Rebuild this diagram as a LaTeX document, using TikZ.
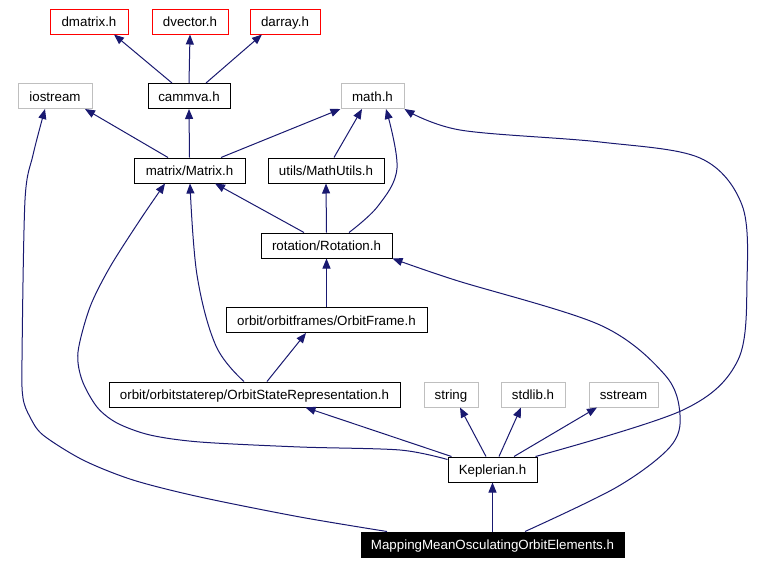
\documentclass[tikz,border=0pt]{standalone}
\usepackage{fontspec}
\setmainfont{Liberation Sans}
\usetikzlibrary{arrows.meta,calc}
\definecolor{edgecol}{HTML}{191970}
\definecolor{sysgray}{HTML}{BFBFBF}
\begin{document}
\begin{tikzpicture}[x=0.75pt,y=-0.75pt,
  bx/.style={draw=black,line width=0.75pt,rectangle,minimum height=18.75pt,inner sep=0pt,
    text height=9pt,text depth=1.5pt,
    font=\fontsize{10}{12}\selectfont},
  missing/.style={bx,draw=red},
  sys/.style={bx,draw=sysgray},
  cur/.style={bx,fill=black,text=white},
  mw/.style={minimum width=#1*0.75pt},
  dep/.style={draw=edgecol,line width=0.75pt,-{Triangle[length=7.5pt,width=6pt]}}]
\useasboundingbox (0,0) rectangle (767,564);
\node[missing,mw=78] (dmatrix) at (89,21.5) {dmatrix.h};
\node[missing,mw=76] (dvector) at (190,21.5) {dvector.h};
\node[missing,mw=70] (darray) at (285,21.5) {darray.h};
\node[sys,mw=74] (iostream) at (55,96) {iostream};
\node[bx,mw=82] (cammva) at (189,96) {cammva.h};
\node[sys,mw=63] (math) at (372.5,96) {math.h};
\node[bx,mw=111] (matrix) at (189.5,170.5) {matrix/Matrix.h};
\node[bx,mw=116] (mathutils) at (326,170.5) {utils/MathUtils.h};
\node[bx,mw=131] (rotation) at (326.5,245.5) {rotation/Rotation.h};
\node[bx,mw=201] (frame) at (326.5,320) {orbit/orbitframes/OrbitFrame.h};
\node[bx,mw=291] (osr) at (254.5,394.5) {orbit/orbitstaterep/OrbitStateRepresentation.h};
\node[sys,mw=54] (string) at (451,394.5) {string};
\node[sys,mw=64] (stdlib) at (533,394.5) {stdlib.h};
\node[sys,mw=69] (sstream) at (623.5,394.5) {sstream};
\node[bx,mw=89] (kepler) at (492.5,469.5) {Keplerian.h};
\node[cur,mw=263] (mapping) at (492.5,544.5) {MappingMeanOsculatingOrbitElements.h};

\draw[dep] ($(cammva.north)+(-17,0)$) -- ($(dmatrix.south)+(25,0)$);
\draw[dep] (cammva.north) -- (dvector.south);
\draw[dep] ($(cammva.north)+(17,0)$) -- ($(darray.south)+(-23,0)$);
\draw[dep] ($(matrix.north)+(-21.5,0)$) -- ($(iostream.south)+(30,0)$);
\draw[dep] (matrix.north) -- (cammva.south);
\draw[dep] ($(matrix.north)+(31.5,0)$) -- ($(math.south)+(-32,0)$);
\draw[dep] ($(mathutils.north)+(8,0)$) -- ($(math.south)+(-10.5,0)$);
\draw[dep] ($(rotation.north)+(-22.5,0)$) -- ($(matrix.south)+(25.5,0)$);
\draw[dep] (rotation.north) -- (mathutils.south);
\draw[dep] plot[smooth,tension=0.6] coordinates {($(rotation.north)+(22.5,0)$) (378,206) (397,168) ($(math.south)+(13.5,0)$)};
\draw[dep] (frame.north) -- (rotation.south);
\draw[dep] ($(osr.north)+(12.5,0)$) -- ($(frame.south)+(-20.5,0)$);
\draw[dep] plot[smooth,tension=0.6] coordinates {($(osr.north)+(-10.5,0)$) (216,346) (197,275) ($(matrix.south)+(0.5,0)$)};
\draw[dep] ($(kepler.north west)+(4,0)$) -- ($(osr.south)+(51,0)$);
\draw[dep] plot[smooth,tension=0.5] coordinates {($(kepler.north west)+(0,3)$) (400,450) (300,447) (200,442) (150,435) (117,423) (97,407) (82,380) (78,352) (90,307) (110,267) (140,220) ($(matrix.south)+(-24.5,0)$)};
\draw[dep] plot[smooth,tension=0.55] coordinates {($(kepler.north east)+(-2,0)$) (683,410) (738,360) (747,280) (742,205) (700,158) (600,142) (460,130) (math.south east)};
\draw[dep] ($(kepler.north)+(-6.5,0)$) -- ($(string.south)+(9,0)$);
\draw[dep] ($(kepler.north)+(6.5,0)$) -- ($(stdlib.south)+(-12,0)$);
\draw[dep] ($(kepler.north)+(21.5,0)$) -- ($(sstream.south)+(-26.5,0)$);
\draw[dep] (mapping.north) -- (kepler.south);
\draw[dep] plot[smooth,tension=0.5] coordinates {($(mapping.north)+(-105.5,0)$) (300,517) (200,497) (133,480) (83,460) (43,435) (30,417) (23,398) (22,360) (25,200) (33,155) ($(iostream.south)+(-10,0)$)};
\draw[dep] plot[smooth,tension=0.55] coordinates {($(mapping.north)+(32.5,0)$) (617,487) (670,447) (680,415) (665,375) (600,325) (455,280) (rotation.south east)};
\end{tikzpicture}
\end{document}
